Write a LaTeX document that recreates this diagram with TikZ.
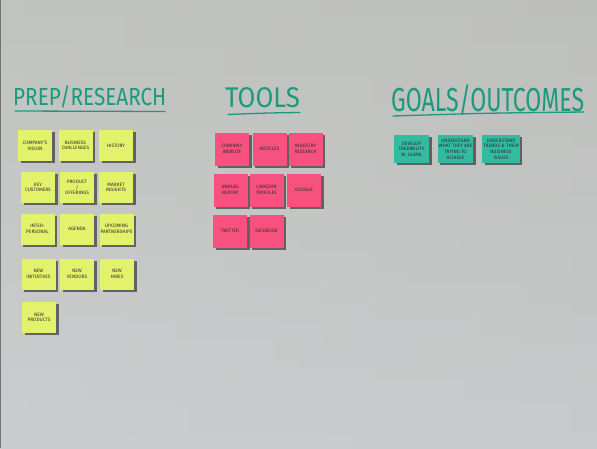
\documentclass[tikz,border=0pt]{standalone}
\usepackage{fontspec}
\setsansfont{Fira Sans}
\usetikzlibrary{shadows}

\definecolor{boardtop}{HTML}{C1C3BF}
\definecolor{boardbot}{HTML}{CFD2D6}
\definecolor{boardedge}{HTML}{B6B7B3}
\definecolor{marker}{HTML}{1C9A7E}
\definecolor{yellownote}{HTML}{E2F26B}
\definecolor{pinknote}{HTML}{F7527F}
\definecolor{tealnote}{HTML}{33BBA2}
\definecolor{ink}{HTML}{2E2E2E}

\newcommand{\notefont}{\sffamily\fontsize{4.8}{5.6}\selectfont}

\tikzset{
  notes/.style={minimum width=34pt, minimum height=31pt, inner sep=1pt,
    align=center, text=ink, font=\notefont,
    drop shadow={shadow xshift=2.5pt, shadow yshift=-2pt, opacity=.5, fill=black}},
  ynote/.style={notes, fill=yellownote},
  pnote/.style={notes, fill=pinknote, minimum height=33pt},
  tnote/.style={notes, fill=tealnote, minimum width=35pt, minimum height=28pt},
  heading/.style={anchor=west, text=marker, inner sep=0pt, font=\sffamily\fontsize{19}{19}\selectfont},
  underline/.style={draw=marker, line width=1.3pt, line cap=round}
}

\begin{document}
\begin{tikzpicture}[x=1pt,y=-1pt]
% whiteboard
\shade[left color=boardtop, right color=boardedge] (0,0) rectangle (597,448);
\shade[top color=boardtop, bottom color=boardbot, opacity=.7] (0,0) rectangle (597,448);
\fill[black!55] (0,0) rectangle (1.2,448);
\useasboundingbox (0,0) rectangle (597,448);

% headings
\node[heading] (prep) at (13,97) {\scalebox{1.09}[1.3]{PREP/RESEARCH}};
\node[heading] (tools) at (225,98) {\scalebox{1.36}[1.5]{TOOLS}};
\node[heading] (goals) at (391,100) {\scalebox{1.22}[1.75]{GOALS/OUTCOMES}};
\draw[underline] (15,111) -- (165,111.5);
\draw[underline] (228,114.5) .. controls (265,113) .. (300,112.5);
\draw[underline] (393,116) .. controls (490,113) .. (584,112);

% prep / research
\node[ynote] (vision) at (35,145.5) {COMPANY'S\\VISION};
\node[ynote] (challenges) at (75.5,145.5) {BUSINESS\\CHALLENGES};
\node[ynote] (history) at (116,145.5) {HISTORY};
\node[ynote] (customers) at (38,187.5) {KEY\\CUSTOMERS};
\node[ynote] (offerings) at (77,187.5) {PRODUCT\\/\\OFFERINGS};
\node[ynote] (insights) at (116,187.5) {MARKET\\INSIGHTS};
\node[ynote] (personal) at (37.5,229) {INTER-\\PERSONAL};
\node[ynote] (agenda) at (77,229) {AGENDA};
\node[ynote] (partners) at (116.5,229) {UPCOMING\\PARTNERSHIPS};
\node[ynote] (initiatives) at (38.5,274) {NEW\\INITIATIVES};
\node[ynote] (vendors) at (77,274) {NEW\\VENDORS};
\node[ynote] (hires) at (117,274) {NEW\\HIRES};
\node[ynote] (products) at (39,317.5) {NEW\\PRODUCTS};

% tools
\node[pnote] (website) at (232,149) {COMPANY\\WEBSITE};
\node[pnote] (articles) at (269.5,149) {ARTICLES};
\node[pnote] (research) at (305.5,149) {INDUSTRY\\RESEARCH};
\node[pnote] (report) at (230.5,190) {ANNUAL\\REPORT};
\node[pnote] (linkedin) at (266.5,190) {LINKEDIN\\PROFILES};
\node[pnote] (google) at (304,190) {GOOGLE};
\node[pnote] (twitter) at (230,231) {TWITTER};
\node[pnote] (facebook) at (266.5,231) {FACEBOOK};

% goals / outcomes
\node[tnote] (credibility) at (411.5,149) {DEVELOP\\CREDIBILITY\\W. LEARN};
\node[tnote] (achieve) at (455.5,149) {UNDERSTAND\\WHAT THEY ARE\\TRYING TO\\ACHIEVE};
\node[tnote] (trends) at (501,149) {UNDERSTAND\\TRENDS \& THEIR\\BUSINESS\\ISSUES};
\end{tikzpicture}
\end{document}
